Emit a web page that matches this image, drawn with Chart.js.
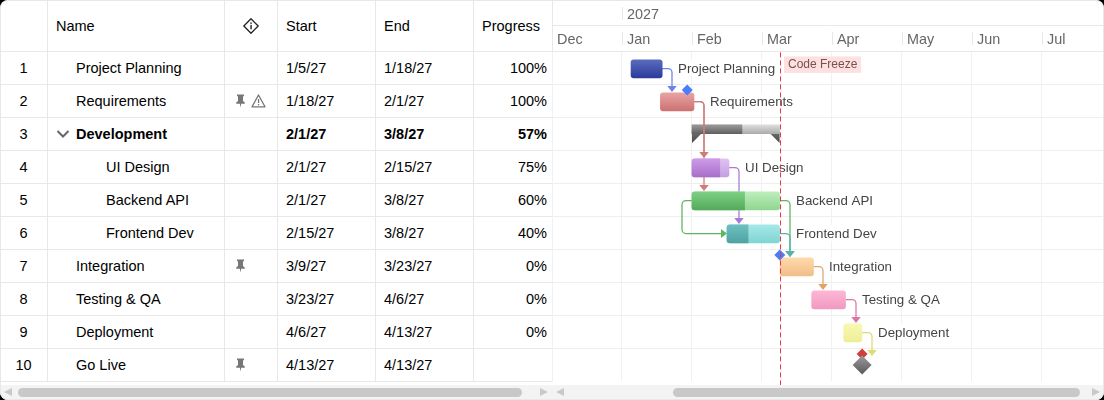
<!DOCTYPE html>
<html>
<head>
<meta charset="utf-8">
<title>Gantt</title>
<script src="https://cdn.jsdelivr.net/npm/chart.js@4"></script>
<style>
html, body { margin: 0; padding: 0; background: #000; }
#box { position: relative; width: 1104px; height: 400px; background: #fff; border-radius: 8px; overflow: hidden; font-family: "Liberation Sans", Arial, sans-serif; color: #000; }
#frame { position: absolute; left: 0; top: 0; right: 0; bottom: 0; border: 1px solid #e8e8e8; border-radius: 8px; pointer-events: none; }
table { position: absolute; left: 0; top: 0; width: 553px; table-layout: fixed; border-collapse: separate; border-spacing: 0; font-size: 14.5px; }
td, th { box-sizing: border-box; height: 33px; padding: 0; border-right: 1px solid #e8e8e8; border-bottom: 1px solid #e8e8e8; font-weight: normal; text-align: left; white-space: nowrap; overflow: hidden; }
th { height: 52px; }
.b { font-weight: bold; }
.num { text-align: center; }
.pad { padding-left: 8px; }
.right { text-align: right; padding-right: 5px; }
.ico { font-size: 0; padding-left: 11px; }
th.ico { padding-left: 0; text-align: center; }
.ico svg { vertical-align: middle; }
#gantt { position: absolute; left: 552px; top: 0; }
#scroll { position: absolute; left: 0; top: 385px; width: 1104px; height: 15px; background: #f3f3f3; }
.thumb { position: absolute; top: 3px; height: 9px; border-radius: 5px; background: #c8c8c8; }
.arr { position: absolute; top: 3px; width: 0; height: 0; border-top: 4.5px solid transparent; border-bottom: 4.5px solid transparent; }
.arr.l { border-right: 8px solid #c8c8c8; }
.arr.r { border-left: 8px solid #c8c8c8; }
</style>
</head>
<body>
<div id="box">
  <table id="grid"></table>
  <canvas id="gantt" width="552" height="385"></canvas>
  <div id="scroll">
    <div class="arr l" style="left:4px"></div>
    <div class="thumb" style="left:18px;width:504px"></div>
    <div class="arr r" style="left:540px"></div>
    <div class="arr l" style="left:556px"></div>
    <div class="thumb" style="left:673px;width:407px"></div>
    <div class="arr r" style="left:1092px"></div>
  </div>
  <div id="frame"></div>
</div>
<script>
var taskNames = ["Project Planning", "Requirements", "Development", "UI Design", "Backend API", "Frontend Dev", "Integration", "Testing & QA", "Deployment", "Go Live"];
var startDates = ["1/5/27", "1/18/27", "2/1/27", "2/1/27", "2/1/27", "2/15/27", "3/9/27", "3/23/27", "4/6/27", "4/13/27"];
var endDates = ["1/18/27", "2/1/27", "3/8/27", "2/15/27", "3/8/27", "3/8/27", "3/23/27", "4/6/27", "4/13/27", "4/13/27"];
var progress = [100, 100, 57, 75, 60, 40, 0, 0, 0, null];
var indentLevel = [1, 1, 0, 2, 2, 2, 1, 1, 1, 1];
var pinnedRows = [1, 6, 9];
var warningRows = [1];
var summaryRow = 2;
var milestoneRow = 9;

var monthLabels = ["Dec", "Jan", "Feb", "Mar", "Apr", "May", "Jun", "Jul"];
var yearLabels = { 1: "2027" };

var depFrom = [0, 1, 1, 3, 4, 4, 5, 6, 7, 8];
var depTo = [1, 3, 4, 5, 5, 6, 6, 7, 8, 9];

var deadlineRows = [1, 6, 9];
var deadlineDates = ["1/29/27", "3/8/27", "4/13/27"];
var deadlineColors = ["#4a7dfb", "#4a7dfb", "#cf3f3f"];

var freezeDate = "3/9/27";
var freezeLabel = "Code Freeze";

// bar colours, top and bottom of each gradient
var doneTop = ["#5a6bbd", "#e8a3a3", "#9a9a9a", "#cd9ae8", "#7dd083", "#6fc0c0", "", "", "", ""];
var doneBottom = ["#2c3b9c", "#cc7272", "#5f5f5f", "#a86fc9", "#55aa5b", "#4fa3a3", "", "", "", ""];
var restTop = ["", "", "#dddddd", "#dfc2f2", "#bceebc", "#a6e8e8", "#ffd9ab", "#ffb6d6", "#f8f8b2", ""];
var restBottom = ["", "", "#aaaaaa", "#c49fe0", "#90d690", "#80d4d4", "#f0be88", "#f09abf", "#eeee98", ""];
var depColors = ["#6f82e6", "#cf7b7b", "", "#ab78d6", "#5cb560", "#58b1b1", "#e0a468", "#d877a5", "#dcdc72", ""];

var monthWidth = 70;
var barH = 18;
var barBias = 1 / 33;
var endDayPart = 0.8;

// position on the linear axis: 0 is Dec 1 2026, 1 is Jan 1 2027 and so on
function datePos(str, extraDays) {
    var p = str.split("/");
    var m = parseInt(p[0]);
    var d = parseInt(p[1]);
    var inMonth = new Date(2027, m, 0).getDate();
    return m + (d - 1 + (extraDays || 0)) / inMonth;
}
function rowMid(i) { return i + 0.5; }
function barMid(i) { return i + 0.5 + barBias; }

/* ---------- left grid ---------- */
var infoIcon = '<svg width="16" height="16" viewBox="0 0 16 16"><path d="M8 0.8 L15.2 8 L8 15.2 L0.8 8 Z" fill="none" stroke="#222" stroke-width="1.3" stroke-linejoin="round"/><rect x="7.35" y="4.4" width="1.4" height="1.5" fill="#222"/><rect x="7.35" y="6.9" width="1.4" height="4.4" fill="#222"/></svg>';
var pinIcon = '<svg width="9" height="14" viewBox="0 0 9 14"><path d="M1 0.5 H8 V2.2 H7 V7 L8.8 8.6 V9.8 H5.2 L4.5 13.5 L3.8 9.8 H0.2 V8.6 L2 7 V2.2 H1 Z" fill="#777"/></svg>';
var warnIcon = '<svg width="15" height="14" viewBox="0 0 15 14" style="margin-left:6px"><path d="M7.5 1 L14 12.8 H1 Z" fill="none" stroke="#777" stroke-width="1.3" stroke-linejoin="round"/><rect x="6.9" y="5" width="1.3" height="4" fill="#777"/><rect x="6.9" y="10" width="1.3" height="1.3" fill="#777"/></svg>';
var chevron = '<svg width="14" height="10" viewBox="0 0 14 10" style="position:absolute;left:-20px;top:3px"><path d="M1.5 2 L7 7.5 L12.5 2" fill="none" stroke="#666" stroke-width="2"/></svg>';

var html = '<colgroup><col style="width:48px"><col style="width:177px"><col style="width:53px"><col style="width:98px"><col style="width:98px"><col style="width:79px"></colgroup>';
html += '<tr><th></th><th class="pad">Name</th><th class="ico">' + infoIcon + '</th><th class="pad">Start</th><th class="pad">End</th><th class="pad">Progress</th></tr>';
var indentPx = [28, 28, 58];
for (var i = 0; i < taskNames.length; i++) {
    var icons = "";
    if (pinnedRows.indexOf(i) >= 0) icons += pinIcon;
    if (warningRows.indexOf(i) >= 0) icons += warnIcon;
    var name = taskNames[i].replace("&", "&amp;");
    var bold = i == summaryRow ? " b" : "";
    if (i == summaryRow) name = '<span style="position:relative">' + chevron + name + '</span>';
    html += '<tr>';
    html += '<td class="num">' + (i + 1) + '</td>';
    html += '<td class="' + bold + '" style="padding-left:' + indentPx[indentLevel[i]] + 'px">' + name + '</td>';
    html += '<td class="ico">' + icons + '</td>';
    html += '<td class="pad' + bold + '">' + startDates[i] + '</td>';
    html += '<td class="pad' + bold + '">' + endDates[i] + '</td>';
    html += '<td class="right' + bold + '">' + (progress[i] === null ? "" : progress[i] + "%") + '</td>';
    html += '</tr>';
}
document.getElementById("grid").innerHTML = html;

/* ---------- chart data ---------- */
var restData = [];
var doneData = [];
var summaryData = [];
for (var i = 0; i < taskNames.length; i++) {
    if (i == milestoneRow) continue;
    var a = datePos(startDates[i]);
    var b = datePos(endDates[i], endDayPart);
    var c = a + (b - a) * progress[i] / 100;
    if (i == summaryRow) {
        summaryData.push({ x: [a, b], y: rowMid(i), row: i, kind: "rest" });
        summaryData.push({ x: [a, c], y: rowMid(i), row: i, kind: "done" });
        continue;
    }
    if (progress[i] < 100) restData.push({ x: [a, b], y: barMid(i), row: i, full: progress[i] == 0 });
    if (progress[i] > 0) doneData.push({ x: [a, c], y: barMid(i), row: i, full: progress[i] == 100 });
}
var deadlineData = [];
for (var i = 0; i < deadlineRows.length; i++) {
    deadlineData.push({ x: datePos(deadlineDates[i], 0.9), y: deadlineRows[i] + 5.5 / 33 });
}
var milestoneData = [{ x: datePos(startDates[milestoneRow], 0.9), y: rowMid(milestoneRow) }];

// scriptable options also get asked before the scales are laid out
function barGrad(chart, raw, top, bottom) {
    if (!raw) return top || "#999";
    var y = chart.scales.y.getPixelForValue(raw.y);
    if (!isFinite(y)) return top;
    var g = chart.ctx.createLinearGradient(0, y - barH / 2, 0, y + barH / 2);
    g.addColorStop(0, top);
    g.addColorStop(1, bottom);
    return g;
}

// summary band only fills the top half of its bar
function summaryGrad(chart, raw, top, bottom) {
    var y = chart.scales.y.getPixelForValue(raw.y);
    if (!isFinite(y)) return top;
    var g = chart.ctx.createLinearGradient(0, y - barH / 2, 0, y + barH / 2);
    g.addColorStop(0, top);
    g.addColorStop(0.5, bottom);
    g.addColorStop(0.5, "rgba(0,0,0,0)");
    g.addColorStop(1, "rgba(0,0,0,0)");
    return g;
}

/* ---------- drawing helpers that sit on the scales ---------- */
function barEndPx(chart, i) { return chart.scales.x.getPixelForValue(datePos(endDates[i], endDayPart)); }
function barStartPx(chart, i) { return chart.scales.x.getPixelForValue(datePos(startDates[i])); }
function lineY(chart, i) { return Math.round(chart.scales.y.getPixelForValue(rowMid(i))) + 0.5; }
function barTopPx(chart, i) { return chart.scales.y.getPixelForValue(barMid(i)) - barH / 2; }

function drawConnector(chart, from, to) {
    var c = chart.ctx;
    var color = depColors[from];
    var y0 = lineY(chart, from);
    c.save();
    c.strokeStyle = color;
    c.fillStyle = color;
    c.lineWidth = 1.25;
    c.beginPath();
    if (from == 4 && to == 5) {
        // start to start link goes round the left side
        var sx = Math.round(barStartPx(chart, from));
        var tx = barStartPx(chart, to);
        var y1 = lineY(chart, to);
        c.moveTo(sx, y0);
        c.arcTo(sx - 10, y0, sx - 10, y1, 4);
        c.arcTo(sx - 10, y1, tx, y1, 4);
        c.lineTo(tx - 5, y1);
        c.stroke();
        c.beginPath();
        c.moveTo(tx, y1);
        c.lineTo(tx - 6, y1 - 4.5);
        c.lineTo(tx - 6, y1 + 4.5);
        c.fill();
    } else {
        var ex = Math.round(barEndPx(chart, from));
        var vx = ex + 10;
        var tip = barTopPx(chart, to) - 1;
        c.moveTo(ex, y0);
        c.arcTo(vx, y0, vx, tip, 4);
        c.lineTo(vx, tip - 5);
        c.stroke();
        c.beginPath();
        c.moveTo(vx, tip);
        c.lineTo(vx - 4.7, tip - 6);
        c.lineTo(vx + 4.7, tip - 6);
        c.fill();
    }
    c.restore();
}

function drawSummaryEnds(chart, i) {
    var c = chart.ctx;
    var x0 = barStartPx(chart, i);
    var x1 = barEndPx(chart, i);
    var y = chart.scales.y.getPixelForValue(rowMid(i));
    var g = c.createLinearGradient(0, y - 1, 0, y + 9);
    g.addColorStop(0, "#6a6a6a");
    g.addColorStop(1, "#4a4a4a");
    c.save();
    c.fillStyle = g;
    c.beginPath();
    c.moveTo(x0, y - 1);
    c.lineTo(x0 + 10, y - 1);
    c.lineTo(x0, y + 9);
    c.moveTo(x1, y - 1);
    c.lineTo(x1 - 10, y - 1);
    c.lineTo(x1, y + 9);
    c.fill();
    c.restore();
}

function drawTaskLabels(chart) {
    var c = chart.ctx;
    c.save();
    c.font = '13.33px "Liberation Sans"';
    c.textBaseline = "middle";
    for (var i = 0; i < taskNames.length; i++) {
        if (i == summaryRow || i == milestoneRow) continue;
        var x = Math.round(barEndPx(chart, i)) + 16;
        var y = chart.scales.y.getPixelForValue(rowMid(i));
        var w = c.measureText(taskNames[i]).width;
        c.fillStyle = "#fff";
        c.fillRect(x - 2, y - 8, w + 4, 16);
        c.fillStyle = "#444";
        c.fillText(taskNames[i], x, y + 1);
    }
    c.restore();
}

function drawFreeze(chart) {
    var c = chart.ctx;
    var x = Math.round(chart.scales.x.getPixelForValue(datePos(freezeDate))) + 0.5;
    var top = chart.chartArea.top;
    c.save();
    c.strokeStyle = "#f0343c";
    c.lineWidth = 1;
    c.setLineDash([5, 3]);
    c.beginPath();
    c.moveTo(x, top + 1);
    c.lineTo(x, chart.height);
    c.stroke();
    c.setLineDash([]);
    c.fillStyle = "#fde1e1";
    c.fillRect(x + 3.5, top + 5, 77, 16.5);
    c.font = '12px "Liberation Sans"';
    c.textBaseline = "middle";
    c.fillStyle = "#77504f";
    c.fillText(freezeLabel, x + 7.5, top + 13.5);
    c.restore();
}

function drawHeaderTicks(chart) {
    var c = chart.ctx;
    c.save();
    c.strokeStyle = "#e8e8e8";
    c.lineWidth = 1;
    c.beginPath();
    chart.scales.x.ticks.forEach(function (t) {
        var x = Math.round(chart.scales.x.getPixelForValue(t.value)) + 0.5;
        c.moveTo(x, 32);
        c.lineTo(x, 45);
        if (yearLabels[t.value]) {
            c.moveTo(x, 7);
            c.lineTo(x, 20);
        }
    });
    c.stroke();
    c.restore();
}

var ganttExtras = {
    id: "ganttExtras",
    beforeDatasetDraw: function (chart, args) {
        if (args.index == 0) {
            drawSummaryEnds(chart, summaryRow);
        }
        if (args.index == 1) {
            for (var i = 0; i < depFrom.length; i++) drawConnector(chart, depFrom[i], depTo[i]);
            drawTaskLabels(chart);
        }
    },
    afterDatasetsDraw: function (chart) {
        drawFreeze(chart);
        drawHeaderTicks(chart);
    }
};

// labels hang off the ticks, no margin should be kept for them
function fitTopAxis(s, h) {
    s.height = h;
    s.paddingLeft = 0;
    s.paddingRight = 0;
}

/* ---------- chart ---------- */
var ctx = document.getElementById("gantt");
var gantt = new Chart(ctx, {
    type: "bar",
    data: {
        datasets: [
            {
                indexAxis: "y", grouped: false, order: 5, barThickness: barH, data: summaryData,
                backgroundColor: function (c) {
                    var r = c.raw;
                    if (!r) return "#999";
                    return r.kind == "done"
                        ? summaryGrad(c.chart, r, doneTop[r.row], doneBottom[r.row])
                        : summaryGrad(c.chart, r, restTop[r.row], restBottom[r.row]);
                }
            },
            {
                indexAxis: "y", grouped: false, order: 3, barThickness: barH, data: restData, borderSkipped: false,
                borderRadius: 3,
                backgroundColor: function (c) { return c.raw ? barGrad(c.chart, c.raw, restTop[c.raw.row], restBottom[c.raw.row]) : "#999"; }
            },
            {
                indexAxis: "y", grouped: false, order: 2, barThickness: barH, data: doneData, borderSkipped: false,
                borderRadius: function (c) {
                    var r = c.raw && c.raw.full ? 3 : 0;
                    return { topLeft: 3, bottomLeft: 3, topRight: r, bottomRight: r };
                },
                backgroundColor: function (c) { return c.raw ? barGrad(c.chart, c.raw, doneTop[c.raw.row], doneBottom[c.raw.row]) : "#999"; }
            },
            {
                type: "scatter", order: 1, data: deadlineData, pointStyle: "rectRot", pointRadius: 5.5, pointBorderWidth: 0,
                pointBackgroundColor: deadlineColors
            },
            {
                type: "scatter", order: 0, data: milestoneData, pointStyle: "rectRot", pointRadius: 9.5, pointBorderWidth: 0,
                pointBackgroundColor: function (c) {
                    var y = c.chart.scales.y.getPixelForValue(rowMid(milestoneRow));
                    if (!isFinite(y)) return "#777";
                    var g = c.chart.ctx.createLinearGradient(0, y - 9, 0, y + 9);
                    g.addColorStop(0, "#999999");
                    g.addColorStop(1, "#5c5c5c");
                    return g;
                }
            }
        ]
    },
    plugins: [ganttExtras],
    options: {
        responsive: false,
        animation: false,
        devicePixelRatio: 1,
        layout: { autoPadding: false, padding: { bottom: 3.6 } },
        plugins: { legend: { display: false }, tooltip: { enabled: false } },
        scales: {
            year: {
                type: "linear", axis: "x", position: "top", weight: 2, min: 0, max: 552 / monthWidth, offset: false,
                afterFit: function (s) { fitTopAxis(s, 25.4); },
                grid: { display: false, drawTicks: false, offset: false },
                border: { display: true, color: "#e8e8e8" },
                ticks: {
                    stepSize: 1, includeBounds: false, autoSkip: false, maxRotation: 0, align: "start",
                    labelOffset: 5, padding: 2, color: "#666", font: { family: "Liberation Sans", size: 14.4 },
                    callback: function (v) { return yearLabels[v] || ""; }
                }
            },
            x: {
                type: "linear", position: "top", weight: 1, min: 0, max: 552 / monthWidth, offset: false,
                afterFit: function (s) { fitTopAxis(s, 26); },
                grid: { color: "#f1f1f1", drawTicks: false, offset: false },
                border: { display: true, color: "#e8e8e8" },
                ticks: {
                    stepSize: 1, includeBounds: false, autoSkip: false, maxRotation: 0, align: "start",
                    labelOffset: 5, padding: 3, color: "#666", font: { family: "Liberation Sans", size: 14.4 },
                    callback: function (v) { return monthLabels[v]; }
                }
            },
            y: {
                type: "linear", reverse: true, min: 0, max: taskNames.length, offset: false,
                afterFit: function (s) { s.width = 0; s.paddingTop = 0; s.paddingBottom = 0; },
                grid: {
                    drawTicks: false, offset: false,
                    color: function (c) { return c.tick && c.tick.value == taskNames.length ? "rgba(0,0,0,0)" : "#eeeeee"; }
                },
                border: { display: false },
                ticks: { display: false, stepSize: 1 }
            }
        }
    }
});
</script>
</body>
</html>
